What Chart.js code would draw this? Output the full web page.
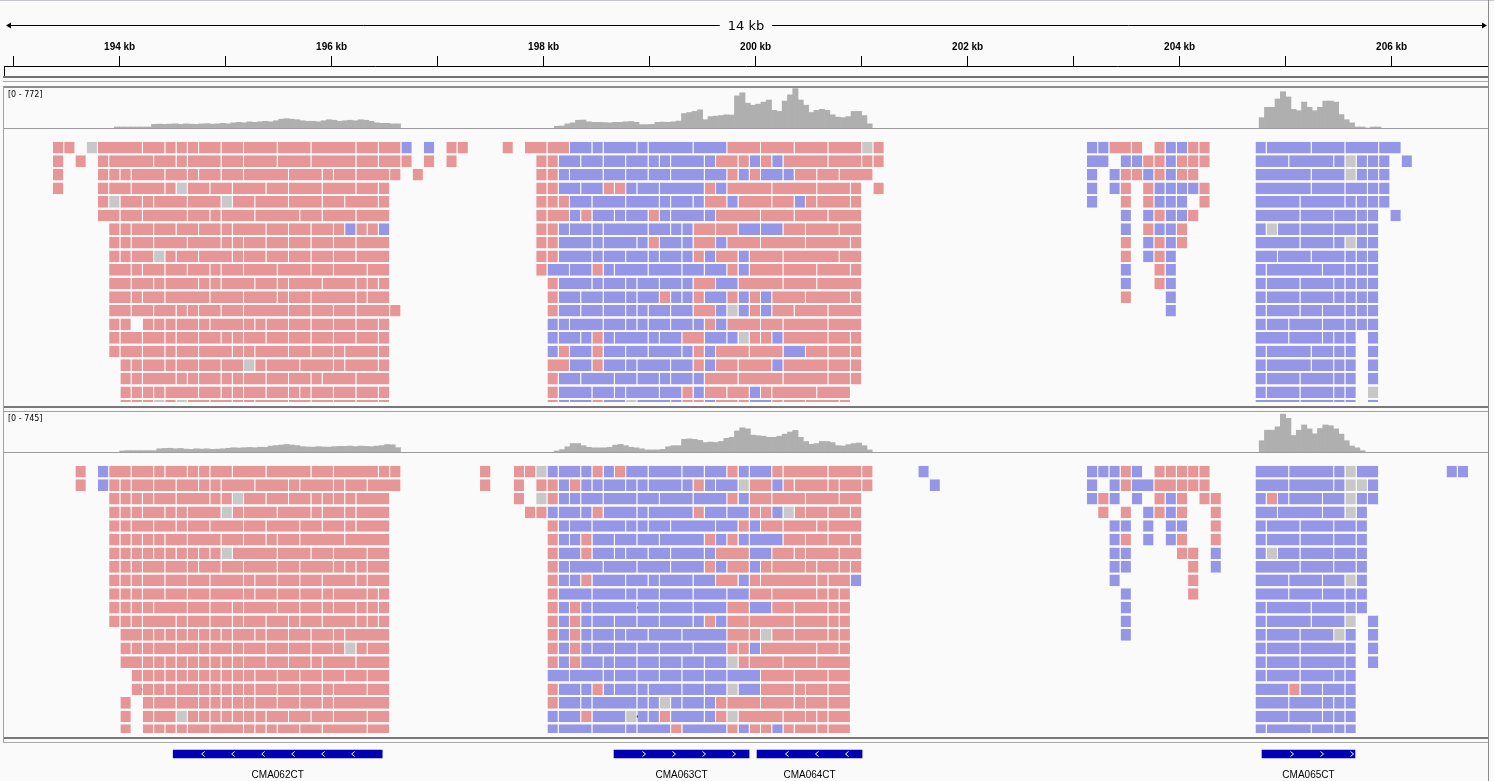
<!DOCTYPE html>
<html lang="en">
<head>
<meta charset="utf-8">
<title>Alignments 193-207 kb</title>
<script src="https://cdn.jsdelivr.net/npm/chart.js@4.4.1/dist/chart.umd.min.js"></script>
<style>
  html, body { margin: 0; padding: 0; background: #fafafa; overflow: hidden; }
  #view { position: relative; width: 1494px; height: 781px; }
  canvas, .rule { position: absolute; }
</style>
</head>
<body>
<div id="view">
  <div class="rule" style="left:0;top:0;width:1494px;height:1px;background:#c4c6d2"></div>
  <canvas id="ruler" width="1484" height="77" style="left:4px;top:0"></canvas>
  <div class="rule" style="left:3px;top:76px;width:1486px;height:2px;background:#707070"></div>
  <div class="rule" style="left:3px;top:81px;width:1486px;height:1px;background:#a8a8a8"></div>
  <div class="rule" style="left:3px;top:86px;width:1486px;height:2px;background:#8c8c8c"></div>

  <canvas id="cov1" width="1484" height="40" style="left:4px;top:88px"></canvas>
  <div class="rule" style="left:4px;top:128px;width:1484px;height:1px;background:#9c9c9c"></div>
  <canvas id="reads1" width="1484" height="277" style="left:4px;top:129px"></canvas>
  <div class="rule" style="left:3px;top:406px;width:1486px;height:2px;background:#787878"></div>
  <div class="rule" style="left:3px;top:411px;width:1486px;height:1px;background:#a0a0a0"></div>

  <canvas id="cov2" width="1484" height="40" style="left:4px;top:412px"></canvas>
  <div class="rule" style="left:4px;top:452px;width:1484px;height:1px;background:#9c9c9c"></div>
  <canvas id="reads2" width="1484" height="284" style="left:4px;top:453px"></canvas>
  <div class="rule" style="left:3px;top:737px;width:1486px;height:2px;background:#787878"></div>
  <div class="rule" style="left:3px;top:742px;width:1486px;height:1px;background:#a8a8a8"></div>

  <canvas id="genes" width="1484" height="38" style="left:4px;top:743px"></canvas>
  <div class="rule" style="left:3px;top:86px;width:1px;height:656px;background:#a0a0a0"></div>
  <div class="rule" style="left:1488px;top:0;width:1px;height:781px;background:#8a8a8a"></div>
</div>
<script>
// visible window, kb
const VIEW_START = 192.909;
const VIEW_END = 206.909;

const rulerTickKb = [193, 194, 195, 196, 197, 198, 199, 200, 201, 202, 203, 204, 205, 206];
const rulerTickLabels = ['', '194 kb', '', '196 kb', '', '198 kb', '', '200 kb', '', '202 kb', '', '204 kb', '', '206 kb'];

// coverage, reads per 0.05 kb bin
const COV_STEP = 0.05;
const cov1Max = 772;
const cov1LeftStart = 193.95;
const cov1Left = [20,20,20,20,20,20,20,70,74,70,76,80,70,80,74,70,80,84,76,80,90,80,100,110,100,120,110,120,130,120,140,170,180,170,160,140,130,130,120,140,160,150,130,140,150,140,160,150,130,100,90,90,80,80];
const cov1MidStart = 198.1;
const cov1Mid = [34,40,80,100,150,154,120,110,110,106,100,110,110,120,126,110,66,66,70,110,114,110,120,134,280,300,320,350,160,220,230,240,254,250,620,680,480,440,460,500,540,340,320,520,640,760,540,440,300,340,360,340,254,210,200,220,320,320,240,80];
const cov1RightStart = 204.75;
const cov1Right = [200,400,400,560,700,600,360,334,500,400,334,400,520,520,500,260,160,100,20,20,0,20,20];

const cov2Max = 745;
const cov2LeftStart = 194.0;
const cov2Left = [20,26,26,26,26,26,26,60,66,70,60,66,54,50,60,54,60,50,54,60,70,80,74,80,86,80,90,86,110,120,130,140,130,120,100,94,90,100,94,90,100,106,106,110,100,110,106,100,110,120,140,134,80];
const cov2MidStart = 198.1;
const cov2Mid = [20,45,98,157,157,118,88,78,78,78,88,127,143,118,88,78,59,39,39,39,49,98,118,118,235,245,235,216,176,186,176,196,255,274,392,451,431,314,304,294,274,274,294,333,372,402,274,196,143,157,196,196,176,118,112,137,157,167,118,39];
const cov2RightStart = 204.75;
const cov2Right = [210,406,406,470,706,627,308,406,504,431,339,437,504,490,431,333,210,112,78,25];

// packed reads: a number skips that many slots, p/b/g + length is one read (slot = 0.1066 kb)
const READ_SLOT_KB = 0.1066;
const reads1Rows = [
  "4 p1 p1 1 g1 p4 p2 p1 p1 p1 p2 p2 p3 p3 p4 p2 p2 b1 1 b1 1 p1 p1 3 p1 1 p2 p2 b2 b1 b3 b1 b4 b3 p3 p3 p3 p3 g1 p1 18 b1 b1 p2 p1 1 p1 b1 b1 p1 p1 4 b1 b4 b3 b3 b2",
  "4 p1 1 p1 1 p1 p4 p2 p1 p3 p2 p3 p3 p4 p2 p2 p1 1 p1 1 p1 7 p1 p1 b2 b2 b2 b2 b1 b1 b3 b1 p2 p1 b1 p1 b1 p4 p3 p1 p1 18 b2 1 b1 b1 p1 p1 b1 p1 p1 p1 4 b3 b4 b1 g1 b1 b1 b1 1 b1",
  "4 p1 3 p1 p1 p1 p3 p2 p1 p2 p2 p4 p3 p1 p2 p3 p1 1 p1 10 p1 p1 b1 b3 b2 b2 b2 b3 b2 p1 b1 p1 b2 b1 p2 p2 p3 19 b1 1 b1 p1 p1 b1 p1 b1 p1 p1 5 b5 b3 g1 b1 b1 b1",
  "4 p1 3 p1 p2 p3 p1 g1 p2 p2 p3 p2 p3 p3 p2 p1 13 p1 p1 b2 b2 p1 p1 b1 b2 b4 p1 b1 p4 p4 p3 p1 1 p1 18 b1 1 b1 p1 1 p1 b1 b1 b1 b1 p1 4 b5 b3 b2 b1 b1",
  "8 p1 g1 p2 p1 p3 p3 g1 p2 p3 p3 p2 p3 p1 13 p1 p1 p1 b2 b3 b3 b1 b2 b1 p2 b1 p3 p2 b1 p1 p3 p1 20 b1 2 p1 1 p1 b1 b1 b1 1 p1 4 b4 b4 b1 b1 b1 b1",
  "8 p2 p2 p4 p2 p1 p3 p4 p2 p3 p3 13 p1 p2 b1 p1 b2 b1 b2 p1 b1 b3 b1 p4 p3 p3 p3 23 b1 1 b1 p1 b1 b1 p1 5 b4 b3 b2 b1 b1 1 b1",
  "9 p1 p1 p2 p2 p2 p2 p1 p3 p2 p2 p2 p1 b1 p1 p1 b1 13 p1 p1 b1 b2 b1 b4 b2 b1 b1 p2 p2 b2 b2 p2 p3 p2 23 b1 1 p1 b1 b1 p1 6 b1 g1 b2 b3 b2 b1 b1",
  "9 p1 p1 p2 p3 p3 p1 p1 p2 p2 p2 p2 p2 p3 13 p1 p1 b3 b1 b3 b1 p1 b2 b1 p2 b1 p3 p4 p4 p1 23 p1 1 b1 p1 b1 p1 6 b4 b3 b1 g1 b1 b1",
  "9 p1 p1 p2 g1 p1 p2 p3 p1 p2 p2 p2 p2 p2 p3 13 p1 p1 b3 b1 b2 b2 b1 b2 b1 p1 b1 p2 b1 p3 p5 p2 23 p1 1 b1 p1 b1 7 b2 b3 b3 b1 b1 b1",
  "9 p2 p1 p2 p2 p2 p1 p2 p3 p3 p2 p3 p2 13 p1 b2 b2 p1 b1 b3 b3 b2 b2 p1 b1 p3 p3 p3 p1 23 b1 2 p1 b1 7 b1 b5 b2 b1 b1 b1",
  "9 p2 p2 p1 p3 p1 p1 p3 p2 p1 p3 p3 p1 p1 p1 14 p1 b3 b1 b2 b1 b2 b2 b1 p2 b2 p4 p3 p4 23 b1 2 p1 b1 7 b1 b3 b3 b1 b1 b1 b1",
  "9 p2 p1 p2 p4 p3 p3 p1 p2 p4 p1 p2 14 p1 b2 b2 b2 b1 b2 p1 b1 b1 p1 b2 p1 b1 p1 b1 p3 p4 p1 23 p1 3 b1 7 b1 b3 b3 b1 b1 b1 b1",
  "9 p2 p2 p2 p1 p1 p2 p2 p4 p2 p2 p2 p3 p1 13 p1 b2 b2 b2 b1 b1 b2 b2 p2 b1 g1 b1 p1 b1 p2 p3 p3 27 b1 7 b1 b3 b2 b2 b1 b1 b1",
  "9 p1 p1 1 p1 p1 p1 p2 p1 p3 p1 p1 p2 p2 p2 p2 p2 p1 14 b1 b1 b3 b2 b1 b1 b2 b2 b1 p1 b1 p3 p2 p4 p3 35 b1 b2 b3 b2 b1 b1 b1",
  "9 p1 p2 p2 p1 p2 p2 p1 p1 p2 p2 p2 p2 p2 p2 p1 14 b1 b2 b1 p1 b1 b3 b1 b2 p2 b2 b1 g1 p1 p1 b1 p4 p2 p1 35 b3 b3 b1 b1 b1 1 b1",
  "9 p1 p2 p2 p1 p2 p3 p1 p1 p3 p2 p2 p1 p3 p1 14 b1 p1 b2 p1 b2 b2 b3 b1 p1 b1 p3 p3 b2 p2 p2 p1 35 b1 b4 b2 b1 b1 1 b1",
  "10 p1 p1 p2 p1 p2 p2 p2 g1 p1 p3 p3 p1 p3 p1 14 p2 b2 p1 b2 b1 b3 b2 p1 b1 p2 p3 b1 p4 p2 p1 35 b1 b4 b2 b1 b1 1 b1",
  "10 p1 p1 p3 p1 p1 p2 p1 p1 p2 p2 p2 p1 p3 p3 14 p1 b2 b3 b2 b2 b1 b2 b1 p3 p4 p4 p2 p1 35 b1 b3 b3 b1 b1 1 b1",
  "10 p1 p1 p1 p1 p3 p2 p1 p1 p2 p2 p1 p1 p2 p2 p2 p1 14 p1 b3 b2 b1 b3 b2 p1 b1 p2 p2 b1 p1 p4 p3 36 b1 b3 b3 b1 b1 1 g1",
  "10 p1 p1 p1 g1 p1 g1 p2 p2 p1 p1 p3 p2 p2 p2 p2 p1 14 p1 b1 b2 p1 b2 g1 b3 b1 p1 p1 b1 p2 p1 b2 p1 p2 p3 p1 36 b4 b3 b1 b1 1 b1"
];
const reads2Rows = [
  "6 p1 1 b1 p2 p2 p1 p2 p1 p1 p2 p3 p4 p2 p4 p1 p1 7 p1 2 p1 p1 g1 b1 b2 b1 p1 b1 p1 b2 b3 b2 b2 p1 b1 b2 p1 p4 p3 p1 4 b1 14 b1 b1 b1 p1 b1 1 p1 p1 p1 p1 p1 4 b3 b4 b1 g1 b2 6 b1 b1",
  "6 p1 1 b1 p1 p1 p2 p2 p2 p1 p1 p3 p3 p1 p3 p1 p2 p3 7 p1 2 p1 1 p1 p1 b1 p1 b1 b1 b2 b1 b1 b3 b1 p1 b1 b2 g1 p2 b1 p1 p3 p1 p2 p1 5 b1 13 b1 1 b1 p1 b2 p2 p1 p1 p1 4 b3 b4 b1 g1 g1 b1",
  "9 p1 p1 p1 p1 p2 p3 p1 p1 g1 p2 p2 p2 p1 p1 p1 p1 p3 11 p1 1 g1 p1 b1 b1 b2 b3 b2 b3 b3 p1 b1 p2 p3 p3 p2 20 b1 p1 b1 1 b1 1 p1 b1 p1 1 p1 p1 3 b1 p1 b1 b3 b2 g1 b1 b1",
  "9 p1 p1 p1 p2 p1 p1 p3 g1 p1 p3 p3 p1 p2 p1 p3 12 p1 p1 b1 b2 b1 p1 b3 b1 b4 p1 b2 b2 p1 p1 b1 g1 p1 p2 p2 p1 21 p1 1 p1 1 b1 p1 b1 p1 2 p1 3 b2 b4 b2 g1 b1",
  "9 p1 p1 p2 p2 p1 p2 p3 p2 p3 p2 p2 p1 p3 14 p1 b1 b2 b3 b1 b1 b2 b4 b2 p1 b1 p2 p3 p1 p3 22 b1 b1 1 b1 1 b1 b1 2 p1 3 b1 b3 b3 b2 b1",
  "9 p1 p1 p1 p1 p1 p2 p3 p2 p2 p1 p2 p4 p4 14 p1 b1 b1 p1 b2 b2 b2 b4 p1 b1 p1 b1 b3 p2 p2 p2 p1 22 b1 p1 1 b1 1 b1 p1 2 p1 3 b1 b3 b3 b2 b1",
  "9 p1 p1 p1 p1 p1 p1 p1 p1 p1 p1 g1 p4 p3 p2 p3 p2 14 p1 b2 p1 b2 b1 b2 b2 b3 b1 p3 b2 p2 p1 p3 p2 22 b1 b1 4 p1 p1 1 b1 3 b1 g1 b2 b3 b2 b1",
  "9 p1 p1 p1 p2 p2 p1 p2 p2 p3 p2 p3 p1 p1 p1 p2 14 p1 b1 b3 b3 b3 b3 p1 b1 p2 b1 p1 p3 p1 p2 p1 p1 22 b1 b1 5 p1 1 b1 3 b4 b3 b2 b1",
  "9 p1 p1 p1 p2 p2 p2 p3 p1 p2 p2 p2 p3 p1 p2 14 p1 b1 b1 p1 b3 b2 b1 b3 b2 p2 b1 p1 p5 p1 p2 b1 22 b1 6 p1 5 b3 b3 b2 g1 b1",
  "9 p1 p1 p1 p2 p2 p2 p3 p1 p2 p2 p2 p1 p3 p1 p1 14 p1 b3 b3 b1 b2 b3 b3 b2 p2 p4 p1 p1 p1 24 b1 5 p1 5 b3 b3 b2 b1 b1",
  "9 p1 p1 p1 p1 p3 p2 p2 p1 p3 p2 p2 p1 p2 p1 p1 p1 14 p1 b1 p1 b1 b4 b2 b3 b3 p2 b2 p2 p3 p1 p1 24 b1 11 b1 b4 b3 b1 b1",
  "9 p1 p1 p1 p3 p1 p2 p2 p1 p2 p2 p1 p2 p3 p1 p1 p1 14 p1 b1 p1 b1 b2 b2 b2 b3 b1 p1 b1 p2 p4 p3 p1 p1 24 b1 11 b1 b4 b3 g1 1 b1",
  "10 p2 p1 p1 p1 p1 p1 p1 p1 p1 p2 p1 p2 p2 p2 p1 p4 14 p1 b1 p1 b1 b2 b1 b2 b3 b4 p2 p1 g1 p2 p3 p1 p1 24 b1 11 b1 b3 b3 g1 b1 1 b1",
  "10 p1 p1 p1 p2 p2 p1 p2 p1 p2 p2 p2 p2 p1 g1 p1 p2 14 p1 b1 p1 b1 b2 b2 b2 b3 b3 p1 p1 b1 p5 p2 p1 36 b1 b3 b4 b1 1 b1",
  "10 p2 p1 p1 p1 p1 p1 p1 p1 p1 p1 p2 p2 p2 p1 p3 p3 14 p1 b1 p1 b2 b1 b2 b2 b2 b2 b2 g1 p1 p3 p3 p3 36 b1 b3 b4 b1 1 b1",
  "11 p1 p1 p1 p1 p1 p1 p1 p1 p1 p1 p1 p2 p2 p2 p2 p2 p2 14 b2 b3 b1 b2 b2 b2 b2 b2 b3 p3 p3 p2 36 b1 b3 b3 b1 b1",
  "11 p1 p1 p1 p1 p2 p1 p1 p1 p1 p1 p2 p2 p2 p1 p3 p2 14 p1 b2 b1 p1 b1 b2 b1 b3 b2 b2 g1 b2 p3 p1 p2 p2 36 b3 p1 b2 b2 b1",
  "10 p1 1 p1 p2 p2 p1 p1 p1 p1 p1 p2 p2 p2 p1 p5 14 p1 b2 b1 b4 b1 b1 g1 b1 b2 b1 p1 p3 p3 p1 p2 p2 36 b3 b3 b1 b1 b1",
  "10 p1 1 p1 p2 g1 p1 p1 p1 p1 p1 p1 p1 p2 p2 p2 p3 p2 14 b1 b2 p1 b3 g1 b1 b1 p1 b3 b1 p1 g1 p4 p2 p1 p1 p2 36 b3 b3 b1 b1 b1",
  "10 p1 1 p1 p1 p1 p1 p2 p3 p1 p1 p1 p2 p2 p4 p2 14 b1 b3 b3 b1 b3 p1 b4 p1 b1 p1 p1 b1 p1 p2 p1 p2 36 b1 b4 b2 b1 b1"
];

// mismatch marks: [kb, row]
const mismatch1 = [[194.504,4],[195.221,6],[194.504,7],[200.626,3],[200.069,8],[200.862,9],[204.994,9],[205.306,15],[205.306,16],[205.306,17]];
const mismatch2 = [[195.975,2],[195.928,6],[195.806,8],[194.174,16],[200.069,8],[198.89,10],[199.466,14],[199.645,15],[198.287,16],[198.881,18],[204.815,3]];

const geneNames = ['CMA062CT', 'CMA063CT', 'CMA064CT', 'CMA065CT'];
const geneStarts = [194.505, 198.664, 200.013, 204.777];
const geneEnds = [196.477, 199.938, 201.004, 205.654];
const geneStrands = ['-', '+', '-', '+'];

const BG = '#fafafa';
const PINK = 'rgb(230,150,150)';
const BLUE = 'rgb(150,150,230)';
const GRAY = 'rgb(200,200,200)';
const COV_GRAY = 'rgb(175,175,175)';
const GENE_BLUE = 'rgb(0,0,178)';
const ROW_PX = 14, READ_PX = 12, FIRST_ROW_PX = 15;

Chart.defaults.font.family = '"Liberation Sans", Arial, sans-serif';
Chart.defaults.animation = false;
Chart.defaults.plugins.legend.display = false;
Chart.defaults.plugins.tooltip.enabled = false;

const xView = { type: 'linear', min: VIEW_START, max: VIEW_END, offset: false, display: false };

// ruler
const rulerDecor = {
  id: 'rulerDecor',
  afterDraw(chart) {
    const { ctx, chartArea: a, scales: { x } } = chart;
    const y = 25.5;
    const mid = (a.left + a.right) / 2;
    const label = Math.round(x.max - x.min) + ' kb';
    ctx.save();
    ctx.font = '13px "DejaVu Sans"';
    const w = ctx.measureText(label).width;
    ctx.strokeStyle = '#000';
    ctx.fillStyle = '#000';
    ctx.lineWidth = 1;
    ctx.beginPath();
    ctx.moveTo(a.left + 3, y); ctx.lineTo(mid - w / 2 - 8, y);
    ctx.moveTo(mid + w / 2 + 8, y); ctx.lineTo(a.right - 3, y);
    ctx.stroke();
    ctx.beginPath();
    ctx.moveTo(a.left + 2, y); ctx.lineTo(a.left + 7, y - 3); ctx.lineTo(a.left + 7, y + 3); ctx.closePath();
    ctx.moveTo(a.right - 1, y); ctx.lineTo(a.right - 6, y - 3); ctx.lineTo(a.right - 6, y + 3); ctx.closePath();
    ctx.fill();
    ctx.textAlign = 'center';
    ctx.textBaseline = 'middle';
    ctx.fillText(label, mid, y + 1);
    ctx.beginPath();
    ctx.moveTo(a.left + 0.5, a.top); ctx.lineTo(a.left + 0.5, a.bottom);
    ctx.stroke();
    ctx.restore();
  }
};

new Chart(document.getElementById('ruler'), {
  type: 'scatter',
  data: { datasets: [{ data: [] }] },
  options: {
    responsive: false,
    layout: { padding: { top: 38, left: 0, right: 0, bottom: 0 } },
    scales: {
      x: {
        type: 'linear', position: 'top', min: VIEW_START, max: VIEW_END, offset: false,
        afterBuildTicks: axis => { axis.ticks = rulerTickKb.map(value => ({ value })); },
        afterFit: axis => { axis.height = 28; },
        ticks: {
          autoSkip: false, maxRotation: 0, minRotation: 0, padding: 3, color: '#000',
          font: { size: 10, weight: 'bold' },
          callback: (v, i) => rulerTickLabels[i]
        },
        grid: { drawOnChartArea: false, drawTicks: true, tickLength: 10, color: '#000', lineWidth: 1 },
        border: { display: true, color: '#000', width: 1 }
      },
      y: { display: false, min: 0, max: 1 }
    }
  },
  plugins: [rulerDecor]
});

// coverage tracks
const rangeLabel = {
  id: 'rangeLabel',
  afterDraw(chart) {
    const { ctx } = chart;
    ctx.save();
    ctx.font = '8px "DejaVu Sans"';
    ctx.fillStyle = '#000';
    ctx.textBaseline = 'middle';
    ctx.fillText('[0 - ' + chart.scales.y.max + ']', 4, 7);
    ctx.restore();
  }
};

function binPoints(values, start) {
  return values.map((v, k) => ({ x: start + COV_STEP * (k + 0.5), y: v }));
}

function coverageChart(id, blocks, maxVal) {
  const points = [];
  blocks.forEach(([vals, start]) => points.push(...binPoints(vals, start)));
  return new Chart(document.getElementById(id), {
    type: 'bar',
    data: { datasets: [{ data: points, backgroundColor: COV_GRAY, borderWidth: 0, barPercentage: 1, categoryPercentage: 1 }] },
    options: {
      responsive: false,
      scales: { x: xView, y: { type: 'linear', min: 0, max: maxVal, display: false } }
    },
    plugins: [rangeLabel]
  });
}

coverageChart('cov1', [[cov1Left, cov1LeftStart], [cov1Mid, cov1MidStart], [cov1Right, cov1RightStart]], cov1Max);
coverageChart('cov2', [[cov2Left, cov2LeftStart], [cov2Mid, cov2MidStart], [cov2Right, cov2RightStart]], cov2Max);

// read tracks
function parseRows(rows) {
  const out = { p: [], b: [], g: [] };
  rows.forEach((row, r) => {
    let slot = 0;
    row.split(' ').forEach(tok => {
      const isRead = /^[pbg]/.test(tok);
      const n = parseInt(isRead ? tok.slice(1) : tok, 10);
      if (isRead) {
        out[tok[0]].push({ x: [VIEW_START + slot * READ_SLOT_KB, VIEW_START + (slot + n) * READ_SLOT_KB], y: r });
      }
      slot += n;
    });
  });
  return out;
}

function readsChart(id, rows, marks) {
  const canvas = document.getElementById(id);
  const bars = parseRows(rows);
  const yMin = -FIRST_ROW_PX / ROW_PX;
  const yMax = yMin + canvas.height / ROW_PX;
  const readStyle = {
    grouped: false, barPercentage: READ_PX / ROW_PX, categoryPercentage: 1,
    borderSkipped: false, borderWidth: { right: 1 }, borderColor: BG, inflateAmount: 0
  };
  return new Chart(canvas, {
    type: 'bar',
    data: {
      datasets: [
        { ...readStyle, data: bars.p, backgroundColor: PINK },
        { ...readStyle, data: bars.b, backgroundColor: BLUE },
        { ...readStyle, data: bars.g, backgroundColor: GRAY },
        { type: 'scatter', indexAxis: 'x', data: marks.map(([x, y]) => ({ x, y })),
          pointRadius: 1.3, pointBackgroundColor: '#111', pointBorderWidth: 0 }
      ]
    },
    options: {
      responsive: false,
      indexAxis: 'y',
      scales: {
        x: xView,
        y: { type: 'linear', min: yMin, max: yMax, reverse: true, offset: false, display: false }
      }
    }
  });
}

readsChart('reads1', reads1Rows, mismatch1);
readsChart('reads2', reads2Rows, mismatch2);

// gene track
const geneDecor = {
  id: 'geneDecor',
  afterDatasetsDraw(chart) {
    const { ctx } = chart;
    const meta = chart.getDatasetMeta(0);
    ctx.save();
    meta.data.forEach((bar, i) => {
      const { x, y, base } = bar.getProps(['x', 'y', 'base'], true);
      const x0 = Math.min(x, base), x1 = Math.max(x, base);
      const dir = geneStrands[i] === '+' ? 1 : -1;
      ctx.strokeStyle = '#fff';
      ctx.lineWidth = 1;
      ctx.beginPath();
      for (let cx = x0 + 30; cx < x1 - 2; cx += 30) {
        ctx.moveTo(cx - 1.5 * dir, y - 2.5);
        ctx.lineTo(cx + 1.5 * dir, y);
        ctx.lineTo(cx - 1.5 * dir, y + 2.5);
      }
      ctx.stroke();
      ctx.fillStyle = '#000';
      ctx.font = '10px "Liberation Sans"';
      ctx.textAlign = 'center';
      ctx.textBaseline = 'middle';
      ctx.fillText(geneNames[i], (x0 + x1) / 2, y + 21);
    });
    ctx.restore();
  }
};

new Chart(document.getElementById('genes'), {
  type: 'bar',
  data: {
    datasets: [{
      data: geneNames.map((n, i) => ({ x: [geneStarts[i], geneEnds[i]], y: 0 })),
      backgroundColor: GENE_BLUE, borderWidth: 0, barThickness: 8
    }]
  },
  options: {
    responsive: false,
    indexAxis: 'y',
    scales: {
      x: xView,
      y: { type: 'linear', min: -1, max: 38 / 11 - 1, reverse: true, offset: false, display: false }
    }
  },
  plugins: [geneDecor]
});
</script>
</body>
</html>
